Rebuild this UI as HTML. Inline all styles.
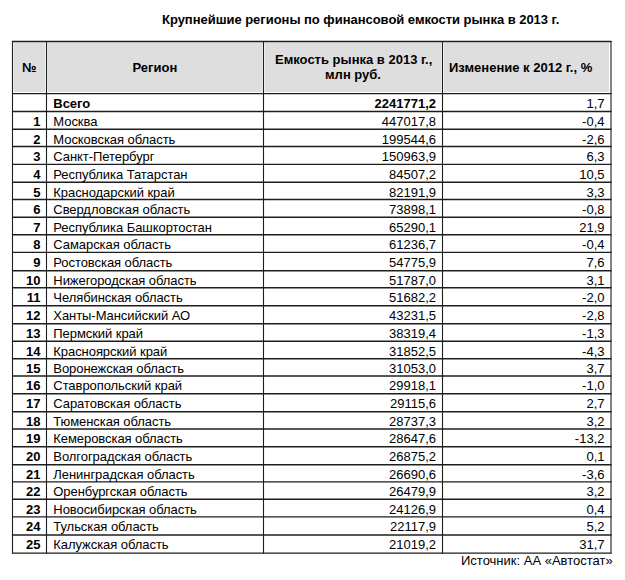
<!DOCTYPE html>
<html><head><meta charset="utf-8"><style>
html,body{margin:0;padding:0;background:#fff;}
body{width:625px;height:580px;position:relative;overflow:hidden;font-family:"Liberation Sans",sans-serif;color:#000;}
.t{position:absolute;white-space:nowrap;font-size:13px;line-height:15px;}
.b{font-weight:bold;}
.r{text-align:right;}
.c{text-align:center;}
svg{position:absolute;left:0;top:0;}
</style></head><body>

<svg width="625" height="580" viewBox="0 0 625 580">
<rect x="13.8" y="42.5" width="31.2" height="49.5" fill="#dfdedf"/>
<rect x="47.5" y="42.5" width="214.8" height="49.5" fill="#dfdedf"/>
<rect x="264.8" y="42.5" width="176.5" height="49.5" fill="#dfdedf"/>
<rect x="443.8" y="42.5" width="165.2" height="49.5" fill="#dfdedf"/>
<line x1="11.95" x2="611.55" y1="41.50" y2="41.50" stroke="#1e1e1e" stroke-width="1.4"/>
<line x1="11.95" x2="611.55" y1="93.60" y2="93.60" stroke="#1e1e1e" stroke-width="1.4"/>
<line x1="11.95" x2="611.55" y1="111.50" y2="111.50" stroke="#1e1e1e" stroke-width="1.4"/>
<line x1="11.95" x2="611.55" y1="129.30" y2="129.30" stroke="#1e1e1e" stroke-width="1.4"/>
<line x1="11.95" x2="611.55" y1="146.45" y2="146.45" stroke="#1e1e1e" stroke-width="1.4"/>
<line x1="11.95" x2="611.55" y1="164.40" y2="164.40" stroke="#1e1e1e" stroke-width="1.4"/>
<line x1="11.95" x2="611.55" y1="182.20" y2="182.20" stroke="#1e1e1e" stroke-width="1.4"/>
<line x1="11.95" x2="611.55" y1="199.50" y2="199.50" stroke="#1e1e1e" stroke-width="1.4"/>
<line x1="11.95" x2="611.55" y1="217.30" y2="217.30" stroke="#1e1e1e" stroke-width="1.4"/>
<line x1="11.95" x2="611.55" y1="234.70" y2="234.70" stroke="#1e1e1e" stroke-width="1.4"/>
<line x1="11.95" x2="611.55" y1="252.40" y2="252.40" stroke="#1e1e1e" stroke-width="1.4"/>
<line x1="11.95" x2="611.55" y1="270.70" y2="270.70" stroke="#1e1e1e" stroke-width="1.4"/>
<line x1="11.95" x2="611.55" y1="287.80" y2="287.80" stroke="#1e1e1e" stroke-width="1.4"/>
<line x1="11.95" x2="611.55" y1="305.70" y2="305.70" stroke="#1e1e1e" stroke-width="1.4"/>
<line x1="11.95" x2="611.55" y1="323.80" y2="323.80" stroke="#1e1e1e" stroke-width="1.4"/>
<line x1="11.95" x2="611.55" y1="341.20" y2="341.20" stroke="#1e1e1e" stroke-width="1.4"/>
<line x1="11.95" x2="611.55" y1="358.80" y2="358.80" stroke="#1e1e1e" stroke-width="1.4"/>
<line x1="11.95" x2="611.55" y1="376.00" y2="376.00" stroke="#1e1e1e" stroke-width="1.4"/>
<line x1="11.95" x2="611.55" y1="393.80" y2="393.80" stroke="#1e1e1e" stroke-width="1.4"/>
<line x1="11.95" x2="611.55" y1="411.75" y2="411.75" stroke="#1e1e1e" stroke-width="1.4"/>
<line x1="11.95" x2="611.55" y1="429.00" y2="429.00" stroke="#1e1e1e" stroke-width="1.4"/>
<line x1="11.95" x2="611.55" y1="446.80" y2="446.80" stroke="#1e1e1e" stroke-width="1.4"/>
<line x1="11.95" x2="611.55" y1="464.70" y2="464.70" stroke="#1e1e1e" stroke-width="1.4"/>
<line x1="11.95" x2="611.55" y1="481.90" y2="481.90" stroke="#1e1e1e" stroke-width="1.4"/>
<line x1="11.95" x2="611.55" y1="499.30" y2="499.30" stroke="#1e1e1e" stroke-width="1.4"/>
<line x1="11.95" x2="611.55" y1="516.90" y2="516.90" stroke="#1e1e1e" stroke-width="1.4"/>
<line x1="11.95" x2="611.55" y1="535.00" y2="535.00" stroke="#1e1e1e" stroke-width="1.4"/>
<line x1="11.95" x2="611.55" y1="553.10" y2="553.10" stroke="#1e1e1e" stroke-width="1.4"/>
<line x1="12.5" x2="12.5" y1="40.95" y2="553.65" stroke="#1e1e1e" stroke-width="1.1"/>
<line x1="46.5" x2="46.5" y1="40.95" y2="553.65" stroke="#1e1e1e" stroke-width="1.1"/>
<line x1="263.5" x2="263.5" y1="40.95" y2="553.65" stroke="#1e1e1e" stroke-width="1.1"/>
<line x1="442.5" x2="442.5" y1="40.95" y2="553.65" stroke="#1e1e1e" stroke-width="1.1"/>
<line x1="611.0" x2="611.0" y1="40.95" y2="553.65" stroke="#1e1e1e" stroke-width="1.1"/>
</svg>
<div class="t b" style="left:162px;top:12px;font-size:13px;letter-spacing:-0.03px">Крупнейшие регионы по финансовой емкости рынка в 2013 г.</div>
<div class="t b" style="left:22px;top:60px;font-size:13px;letter-spacing:0px;">№</div>
<div class="t b" style="left:132.5px;top:60px;font-size:13px;letter-spacing:0px;">Регион</div>
<div class="t b" style="left:275px;top:52px;font-size:13px;letter-spacing:0px;">Емкость рынка в 2013 г.,</div>
<div class="t b" style="left:325px;top:67px;font-size:13px;letter-spacing:0px;">млн руб.</div>
<div class="t b" style="left:449px;top:60px;font-size:13px;letter-spacing:0px;">Изменение к 2012 г., %</div>
<div class="t b" style="left:53.3px;top:96px;letter-spacing:-0.06px">Всего</div>
<div class="t r b" style="right:189px;top:96px;letter-spacing:0px">2241771,2</div>
<div class="t r" style="right:20.5px;top:96px;letter-spacing:0px">1,7</div>
<div class="t b r" style="right:584.5px;top:114px;letter-spacing:0px">1</div>
<div class="t" style="left:53.3px;top:114px;letter-spacing:-0.06px">Москва</div>
<div class="t r" style="right:189px;top:114px;letter-spacing:0px">447017,8</div>
<div class="t r" style="right:20.5px;top:114px;letter-spacing:0px">-0,4</div>
<div class="t b r" style="right:584.5px;top:132px;letter-spacing:0px">2</div>
<div class="t" style="left:53.3px;top:132px;letter-spacing:-0.06px">Московская область</div>
<div class="t r" style="right:189px;top:132px;letter-spacing:0px">199544,6</div>
<div class="t r" style="right:20.5px;top:132px;letter-spacing:0px">-2,6</div>
<div class="t b r" style="right:584.5px;top:149px;letter-spacing:0px">3</div>
<div class="t" style="left:53.3px;top:149px;letter-spacing:-0.06px">Санкт-Петербург</div>
<div class="t r" style="right:189px;top:149px;letter-spacing:0px">150963,9</div>
<div class="t r" style="right:20.5px;top:149px;letter-spacing:0px">6,3</div>
<div class="t b r" style="right:584.5px;top:167px;letter-spacing:0px">4</div>
<div class="t" style="left:53.3px;top:167px;letter-spacing:-0.06px">Республика Татарстан</div>
<div class="t r" style="right:189px;top:167px;letter-spacing:0px">84507,2</div>
<div class="t r" style="right:20.5px;top:167px;letter-spacing:0px">10,5</div>
<div class="t b r" style="right:584.5px;top:185px;letter-spacing:0px">5</div>
<div class="t" style="left:53.3px;top:185px;letter-spacing:-0.06px">Краснодарский край</div>
<div class="t r" style="right:189px;top:185px;letter-spacing:0px">82191,9</div>
<div class="t r" style="right:20.5px;top:185px;letter-spacing:0px">3,3</div>
<div class="t b r" style="right:584.5px;top:202px;letter-spacing:0px">6</div>
<div class="t" style="left:53.3px;top:202px;letter-spacing:-0.06px">Свердловская область</div>
<div class="t r" style="right:189px;top:202px;letter-spacing:0px">73898,1</div>
<div class="t r" style="right:20.5px;top:202px;letter-spacing:0px">-0,8</div>
<div class="t b r" style="right:584.5px;top:220px;letter-spacing:0px">7</div>
<div class="t" style="left:53.3px;top:220px;letter-spacing:-0.06px">Республика Башкортостан</div>
<div class="t r" style="right:189px;top:220px;letter-spacing:0px">65290,1</div>
<div class="t r" style="right:20.5px;top:220px;letter-spacing:0px">21,9</div>
<div class="t b r" style="right:584.5px;top:237px;letter-spacing:0px">8</div>
<div class="t" style="left:53.3px;top:237px;letter-spacing:-0.06px">Самарская область</div>
<div class="t r" style="right:189px;top:237px;letter-spacing:0px">61236,7</div>
<div class="t r" style="right:20.5px;top:237px;letter-spacing:0px">-0,4</div>
<div class="t b r" style="right:584.5px;top:255px;letter-spacing:0px">9</div>
<div class="t" style="left:53.3px;top:255px;letter-spacing:-0.06px">Ростовская область</div>
<div class="t r" style="right:189px;top:255px;letter-spacing:0px">54775,9</div>
<div class="t r" style="right:20.5px;top:255px;letter-spacing:0px">7,6</div>
<div class="t b r" style="right:584.5px;top:273px;letter-spacing:0px">10</div>
<div class="t" style="left:53.3px;top:273px;letter-spacing:-0.06px">Нижегородская область</div>
<div class="t r" style="right:189px;top:273px;letter-spacing:0px">51787,0</div>
<div class="t r" style="right:20.5px;top:273px;letter-spacing:0px">3,1</div>
<div class="t b r" style="right:584.5px;top:290px;letter-spacing:0px">11</div>
<div class="t" style="left:53.3px;top:290px;letter-spacing:-0.06px">Челябинская область</div>
<div class="t r" style="right:189px;top:290px;letter-spacing:0px">51682,2</div>
<div class="t r" style="right:20.5px;top:290px;letter-spacing:0px">-2,0</div>
<div class="t b r" style="right:584.5px;top:308px;letter-spacing:0px">12</div>
<div class="t" style="left:53.3px;top:308px;letter-spacing:-0.06px">Ханты-Мансийский АО</div>
<div class="t r" style="right:189px;top:308px;letter-spacing:0px">43231,5</div>
<div class="t r" style="right:20.5px;top:308px;letter-spacing:0px">-2,8</div>
<div class="t b r" style="right:584.5px;top:326px;letter-spacing:0px">13</div>
<div class="t" style="left:53.3px;top:326px;letter-spacing:-0.06px">Пермский край</div>
<div class="t r" style="right:189px;top:326px;letter-spacing:0px">38319,4</div>
<div class="t r" style="right:20.5px;top:326px;letter-spacing:0px">-1,3</div>
<div class="t b r" style="right:584.5px;top:344px;letter-spacing:0px">14</div>
<div class="t" style="left:53.3px;top:344px;letter-spacing:-0.06px">Красноярский край</div>
<div class="t r" style="right:189px;top:344px;letter-spacing:0px">31852,5</div>
<div class="t r" style="right:20.5px;top:344px;letter-spacing:0px">-4,3</div>
<div class="t b r" style="right:584.5px;top:361px;letter-spacing:0px">15</div>
<div class="t" style="left:53.3px;top:361px;letter-spacing:-0.06px">Воронежская область</div>
<div class="t r" style="right:189px;top:361px;letter-spacing:0px">31053,0</div>
<div class="t r" style="right:20.5px;top:361px;letter-spacing:0px">3,7</div>
<div class="t b r" style="right:584.5px;top:378px;letter-spacing:0px">16</div>
<div class="t" style="left:53.3px;top:378px;letter-spacing:-0.06px">Ставропольский край</div>
<div class="t r" style="right:189px;top:378px;letter-spacing:0px">29918,1</div>
<div class="t r" style="right:20.5px;top:378px;letter-spacing:0px">-1,0</div>
<div class="t b r" style="right:584.5px;top:396px;letter-spacing:0px">17</div>
<div class="t" style="left:53.3px;top:396px;letter-spacing:-0.06px">Саратовская область</div>
<div class="t r" style="right:189px;top:396px;letter-spacing:0px">29115,6</div>
<div class="t r" style="right:20.5px;top:396px;letter-spacing:0px">2,7</div>
<div class="t b r" style="right:584.5px;top:414px;letter-spacing:0px">18</div>
<div class="t" style="left:53.3px;top:414px;letter-spacing:-0.06px">Тюменская область</div>
<div class="t r" style="right:189px;top:414px;letter-spacing:0px">28737,3</div>
<div class="t r" style="right:20.5px;top:414px;letter-spacing:0px">3,2</div>
<div class="t b r" style="right:584.5px;top:431px;letter-spacing:0px">19</div>
<div class="t" style="left:53.3px;top:431px;letter-spacing:-0.06px">Кемеровская область</div>
<div class="t r" style="right:189px;top:431px;letter-spacing:0px">28647,6</div>
<div class="t r" style="right:20.5px;top:431px;letter-spacing:0px">-13,2</div>
<div class="t b r" style="right:584.5px;top:449px;letter-spacing:0px">20</div>
<div class="t" style="left:53.3px;top:449px;letter-spacing:-0.06px">Волгоградская область</div>
<div class="t r" style="right:189px;top:449px;letter-spacing:0px">26875,2</div>
<div class="t r" style="right:20.5px;top:449px;letter-spacing:0px">0,1</div>
<div class="t b r" style="right:584.5px;top:467px;letter-spacing:0px">21</div>
<div class="t" style="left:53.3px;top:467px;letter-spacing:-0.06px">Ленинградская область</div>
<div class="t r" style="right:189px;top:467px;letter-spacing:0px">26690,6</div>
<div class="t r" style="right:20.5px;top:467px;letter-spacing:0px">-3,6</div>
<div class="t b r" style="right:584.5px;top:484px;letter-spacing:0px">22</div>
<div class="t" style="left:53.3px;top:484px;letter-spacing:-0.06px">Оренбургская область</div>
<div class="t r" style="right:189px;top:484px;letter-spacing:0px">26479,9</div>
<div class="t r" style="right:20.5px;top:484px;letter-spacing:0px">3,2</div>
<div class="t b r" style="right:584.5px;top:502px;letter-spacing:0px">23</div>
<div class="t" style="left:53.3px;top:502px;letter-spacing:-0.06px">Новосибирская область</div>
<div class="t r" style="right:189px;top:502px;letter-spacing:0px">24126,9</div>
<div class="t r" style="right:20.5px;top:502px;letter-spacing:0px">0,4</div>
<div class="t b r" style="right:584.5px;top:519px;letter-spacing:0px">24</div>
<div class="t" style="left:53.3px;top:519px;letter-spacing:-0.06px">Тульская область</div>
<div class="t r" style="right:189px;top:519px;letter-spacing:0px">22117,9</div>
<div class="t r" style="right:20.5px;top:519px;letter-spacing:0px">5,2</div>
<div class="t b r" style="right:584.5px;top:537px;letter-spacing:0px">25</div>
<div class="t" style="left:53.3px;top:537px;letter-spacing:-0.06px">Калужская область</div>
<div class="t r" style="right:189px;top:537px;letter-spacing:0px">21019,2</div>
<div class="t r" style="right:20.5px;top:537px;letter-spacing:0px">31,7</div>
<div class="t" style="left:461px;top:553px;font-size:13px">Источник: АА «Автостат»</div>
</body></html>
